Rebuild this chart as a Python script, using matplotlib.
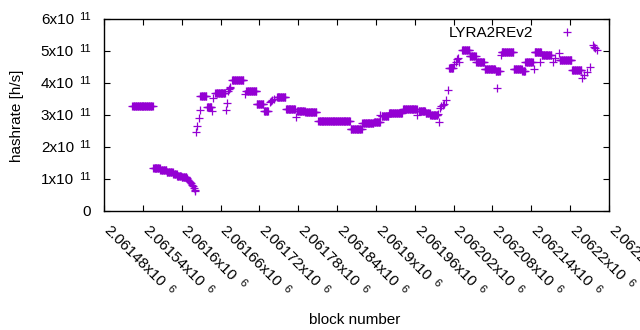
import numpy as np
import matplotlib
matplotlib.use("Agg")
import matplotlib.pyplot as plt
from matplotlib.transforms import offset_copy
from matplotlib.font_manager import FontProperties

# ---- data (block number, hashrate in units of 1e11 h/s) ----
# runs of consecutive blocks sharing the same estimated hashrate
plateau_start = [2061524, 2061556, 2061567, 2061577, 2061587, 2061593, 2061600,
                 2061629, 2061639, 2061652, 2061678, 2061700, 2061716, 2061727,
                 2061747, 2061761, 2061778, 2061791, 2061811, 2061861, 2061879,
                 2061897, 2061909, 2061920, 2061942, 2061966, 2061977, 2061984,
                 2062013, 2062033, 2062045, 2062055, 2062068, 2062085, 2062094,
                 2062113, 2062126, 2062131, 2062145, 2062156, 2062184, 2062203]
plateau_end = [2061555, 2061566, 2061576, 2061586, 2061592, 2061599, 2061607,
               2061638, 2061646, 2061667, 2061695, 2061715, 2061726, 2061733,
               2061760, 2061775, 2061790, 2061808, 2061860, 2061878, 2061896,
               2061906, 2061919, 2061940, 2061963, 2061976, 2061983, 2061995,
               2062019, 2062044, 2062054, 2062067, 2062084, 2062091, 2062112,
               2062125, 2062130, 2062142, 2062155, 2062171, 2062202, 2062217]
plateau_rate = [3.27, 1.34, 1.28, 1.23, 1.15, 1.10, 1.06,
                3.58, 3.24, 3.68, 4.09, 3.75, 3.34, 3.14,
                3.55, 3.18, 3.12, 3.08, 2.80, 2.55, 2.74,
                2.78, 2.98, 3.05, 3.18, 3.12, 3.05, 2.99,
                4.47, 5.02, 4.83, 4.66, 4.43, 4.38, 4.97,
                4.43, 4.39, 4.67, 4.96, 4.89, 4.71, 4.40]

# individual blocks
point_block = [2061608, 2061610, 2061611, 2061613, 2061614, 2061616, 2061617,
               2061619, 2061620, 2061621,
               2061622, 2061624, 2061626, 2061628,
               2061647, 2061649, 2061668, 2061670,
               2061672, 2061673, 2061674, 2061675, 2061698,
               2061736, 2061738, 2061740, 2061743, 2061776, 2061907, 2061964,
               2061996, 2061997, 2061999, 2062001, 2062003, 2062005,
               2062009, 2062012, 2062021, 2062023, 2062025, 2062026, 2062029,
               2062087, 2062093, 2062144, 2062154, 2062174, 2062177, 2062182,
               2062219, 2062222, 2062226, 2062231,
               2062235, 2062237, 2062238, 2062241]
point_rate = [1.02, 0.98, 0.94, 0.90, 0.86, 0.82, 0.77,
              0.72, 0.67, 0.63,
              2.47, 2.65, 2.90, 3.16,
              3.12, 3.52, 3.17, 3.38,
              3.76, 3.80, 3.84, 3.88, 3.65,
              3.40, 3.44, 3.47, 3.50, 2.95, 3.00, 3.00,
              3.02, 2.79, 3.22, 3.27, 3.30, 3.33,
              3.47, 3.78, 4.58, 4.66, 4.74, 4.78, 4.65,
              3.83, 4.88, 4.45, 4.66, 4.65, 4.77, 4.93,
              4.15, 4.25, 4.35, 4.50,
              5.19, 5.13, 5.08, 5.03]

series_label = "LYRA2REv2"
x_ticks = list(range(2061480, 2062261, 60))
x_exp = 6
y_ticks = [0, 1, 2, 3, 4, 5, 6]
y_exp = 11
x_label = "block number"
y_label = "hashrate [h/s]"

# ---- build series ----
blocks = []
rates = []
for s, e, r in zip(plateau_start, plateau_end, plateau_rate):
    b = np.arange(s, e + 1)
    blocks.append(b)
    rates.append(np.full(b.shape, r))
blocks.append(np.array(point_block))
rates.append(np.array(point_rate))
blocks = np.concatenate(blocks)
rates = np.concatenate(rates) * 10.0 ** y_exp
order = np.argsort(blocks, kind="stable")
blocks, rates = blocks[order], rates[order]

family = ['Liberation Sans', 'DejaVu Sans']
plt.rcParams['font.family'] = family

color = '#9400D3'
fs = 11
fs_sup = 8

fig = plt.figure(figsize=(6.4, 3.3), dpi=100)
ax = fig.add_axes([104 / 640, 1 - 211 / 330, 505 / 640, 192 / 330])
ax.plot(blocks, rates, linestyle='none', marker='+', markersize=5.2,
        markeredgewidth=0.9, color=color, label=series_label)

ax.set_xlim(x_ticks[0], x_ticks[-1])
ax.set_ylim(y_ticks[0] * 10.0 ** y_exp, y_ticks[-1] * 10.0 ** y_exp)
ax.set_xticks(x_ticks)
ax.set_yticks([v * 10.0 ** y_exp for v in y_ticks])
ax.tick_params(axis='both', direction='in', length=4, width=0.8, top=True, right=True,
               colors='black', labelbottom=False, labelleft=False)
for sp in ax.spines.values():
    sp.set_linewidth(1.0)
    sp.set_color('black')

renderer = fig.canvas.get_renderer()
fp_main = FontProperties(family=family, size=fs)
fp_sup = FontProperties(family=family, size=fs_sup)


def text_w(s, fp):
    w, h, d = renderer.get_text_width_height_descent(s, fp, ismath=False)
    return w


# ---- y tick labels (gnuplot style "Nx10^11") ----
ytr = ax.get_yaxis_transform()
right_px = -13.0
base_dy = -4.5
gap = 5.5
raise_px = 3.9
for v in y_ticks:
    yv = v * 10.0 ** y_exp
    if v == 0:
        ax.text(0, yv, '0', fontsize=fs, ha='right', va='baseline', clip_on=False,
                transform=offset_copy(ytr, fig=fig, x=right_px, y=base_dy, units='dots'))
        continue
    sup = str(y_exp)
    ws = text_w(sup, fp_sup)
    ax.text(0, yv, sup, fontsize=fs_sup, ha='right', va='baseline', clip_on=False,
            transform=offset_copy(ytr, fig=fig, x=right_px, y=base_dy + raise_px, units='dots'))
    ax.text(0, yv, '%dx10' % v, fontsize=fs, ha='right', va='baseline', clip_on=False,
            transform=offset_copy(ytr, fig=fig, x=right_px - ws - gap, y=base_dy, units='dots'))

# ---- x tick labels, rotated -45 ----
xtr = ax.get_xaxis_transform()
c = np.sqrt(0.5)
x0, y0 = -1.0, -20.0
xgap = 6.0
xraise = 3.7
for v in x_ticks:
    main = '%gx10' % (v / 10.0 ** x_exp)
    w = text_w(main, fp_main)
    ax.text(v, 0, main, fontsize=fs, rotation=-45, rotation_mode='anchor',
            ha='left', va='baseline', clip_on=False,
            transform=offset_copy(xtr, fig=fig, x=x0, y=y0, units='dots'))
    along = w + xgap
    dx = x0 + c * (along + xraise)
    dy = y0 + c * (-along + xraise)
    ax.text(v, 0, str(x_exp), fontsize=fs_sup, rotation=-45, rotation_mode='anchor',
            ha='left', va='baseline', clip_on=False,
            transform=offset_copy(xtr, fig=fig, x=dx, y=dy, units='dots'))

ax.set_xlabel(x_label, fontsize=fs)
ax.set_ylabel(y_label, fontsize=fs)
ax.xaxis.set_label_coords((354.5 - 104) / 505, (211 - 320) / 192)
ax.xaxis.label.set_va('center')
ax.yaxis.set_label_coords((17.5 - 104) / 505, (211 - 115.5) / 192)
ax.yaxis.label.set_va('center')

leg = ax.legend(loc='upper right', markerfirst=False, frameon=False, fontsize=fs,
                handletextpad=1.2, handlelength=2.0, borderpad=0, borderaxespad=0,
                bbox_to_anchor=(582 / 640, 1 - 26 / 330), bbox_transform=fig.transFigure,
                numpoints=1)

fig.savefig('out.png', dpi=100)
